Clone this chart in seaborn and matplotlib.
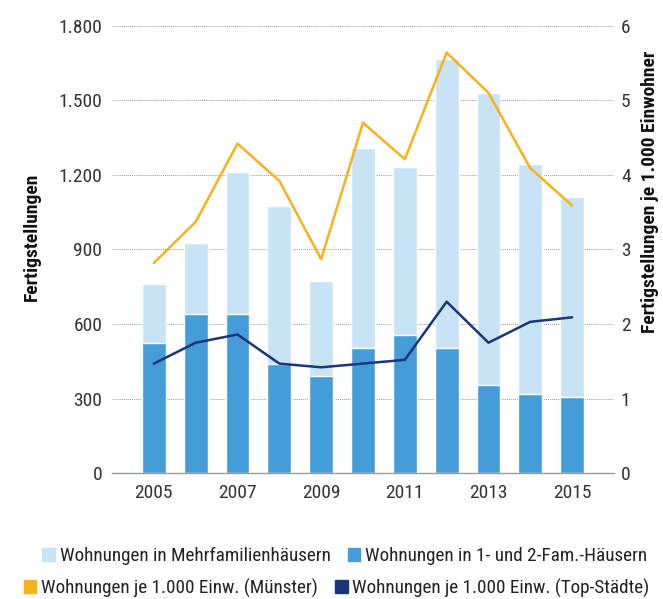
import numpy as np
import pandas as pd
import matplotlib
matplotlib.use("Agg")
import matplotlib.pyplot as plt
import seaborn as sns
from matplotlib.patches import Patch

# Daten
years = [2005, 2006, 2007, 2008, 2009, 2010, 2011, 2012, 2013, 2014, 2015]
efh = [525, 640, 640, 440, 390, 505, 555, 505, 355, 320, 305]          # 1- und 2-Fam.-Häuser
mfh = [235, 285, 570, 635, 385, 805, 675, 1160, 1175, 925, 805]        # Mehrfamilienhäuser
je1000_muenster = [2.82, 3.37, 4.42, 3.92, 2.87, 4.70, 4.21, 5.64, 5.10, 4.09, 3.59]
je1000_top = [1.47, 1.75, 1.86, 1.47, 1.42, 1.47, 1.52, 2.30, 1.75, 2.03, 2.09]

y_ticks = [0, 300, 600, 900, 1200, 1500, 1800]
y_labels = ["0", "300", "600", "900", "1.200", "1.500", "1.800"]
y2_ticks = [0, 1, 2, 3, 4, 5, 6]
x_labels = ["2005", "2007", "2009", "2011", "2013", "2015"]

c_mfh = "#c8e3f5"
c_efh = "#449dd8"
c_ms = "#f6b21b"
c_top = "#1b357a"

sns.set_style("white")
plt.rcParams["font.family"] = ["Roboto Condensed", "DejaVu Sans"]

df = pd.DataFrame({"jahr": [str(y) for y in years], "efh": efh, "mfh": mfh})
df["gesamt"] = df["efh"] + df["mfh"]
idx = np.arange(len(years))

fig = plt.figure(figsize=(6.63, 5.99), dpi=100)
ax = fig.add_axes([0.169, 0.210, 0.757, 0.747])

# gestapelte Säulen
sns.barplot(data=df, x="jahr", y="gesamt", color=c_mfh, width=0.57,
            saturation=1, ax=ax)
sns.barplot(data=df, x="jahr", y="efh", color=c_efh, width=0.57,
            saturation=1, ax=ax)

ax.set_ylim(0, 1800)
ax.set_xlim(-1, 11)
ax.set_yticks(y_ticks)
ax.set_yticklabels(y_labels)
ax.set_xlabel("")
ax.set_ylabel("")
ax.grid(axis="y", linestyle=(0, (1, 1)), color="#999999", linewidth=0.7)
ax.set_axisbelow(True)
for s in ["left", "right", "top"]:
    ax.spines[s].set_visible(False)
ax.spines["bottom"].set_color("#999999")
ax.spines["bottom"].set_linewidth(1.0)

ax.set_xticks(idx[::2])
ax.set_xticklabels(x_labels)
ax.set_xticks(np.arange(-1, 12, 2), minor=True)
ax.tick_params(axis="x", which="major", length=0, pad=8, labelsize=14, labelcolor="#333333")
ax.tick_params(axis="x", which="minor", length=20, width=1.0, color="#999999", direction="out")
ax.tick_params(axis="y", length=0, pad=7, labelsize=14, labelcolor="#333333")

# Linien auf rechter Achse
ax2 = ax.twinx()
sns.lineplot(x=idx, y=je1000_muenster, color=c_ms, linewidth=1.8, ax=ax2)
sns.lineplot(x=idx, y=je1000_top, color=c_top, linewidth=1.8, ax=ax2)
ax2.set_ylim(0, 6)
ax2.set_yticks(y2_ticks)
ax2.tick_params(axis="y", length=0, pad=5, labelsize=14, labelcolor="#333333")
for s in ["left", "right", "top", "bottom"]:
    ax2.spines[s].set_visible(False)
ax2.set_ylabel("")
ax2.set_xlim(-1, 11)

fig.text(0.048, 0.605, "Fertigstellungen", rotation=90, ha="center", va="center",
         fontsize=14, fontweight="bold", color="#111111")
fig.text(0.981, 0.68, "Fertigstellungen je 1.000 Einwohner", rotation=90, ha="center",
         va="center", fontsize=14, fontweight="bold", color="#111111")

# Legende in zwei Zeilen
row1 = [Patch(color=c_mfh, label="Wohnungen in Mehrfamilienhäusern"),
        Patch(color=c_efh, label="Wohnungen in 1- und 2-Fam.-Häusern")]
row2 = [Patch(color=c_ms, label="Wohnungen je 1.000 Einw. (Münster)"),
        Patch(color=c_top, label="Wohnungen je 1.000 Einw. (Top-Städte)")]
for handles, x, y in [(row1, 0.52, 0.072), (row2, 0.508, 0.018)]:
    fig.legend(handles=handles, loc="center", bbox_to_anchor=(x, y), ncol=2,
               frameon=False, fontsize=13.8, handlelength=0.65, handleheight=0.65,
               handletextpad=0.25, columnspacing=0.9, labelcolor="#222222",
               borderaxespad=0, borderpad=0)

fig.savefig("out.png", dpi=100)
